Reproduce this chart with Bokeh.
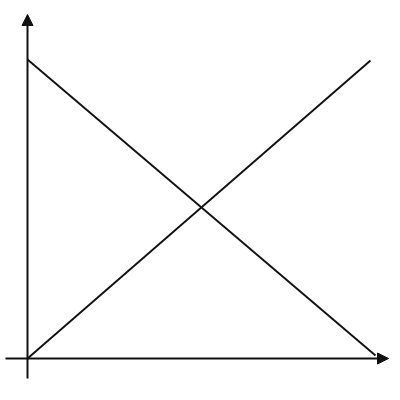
from bokeh.plotting import figure
from bokeh.models import Range1d, Arrow, NormalHead
from bokeh.embed import file_html
from bokeh.resources import INLINE

# Data (abstract units, origin at 0,0)
rise_x = [0, 343]
rise_y = [0, 298]
fall_x = [0, 348]
fall_y = [299, 3]

# Axis extents
x_axis_span = [-22, 361]
y_axis_span = [-20, 344]

p = figure(width=392, height=392, output_backend="svg", toolbar_location=None,
           x_range=Range1d(-27, 365), y_range=Range1d(-34, 358), min_border=0)
p.axis.visible = False
p.grid.visible = False
p.outline_line_color = None
p.background_fill_color = "white"
p.border_fill_color = "white"

p.line(rise_x, rise_y, line_color="#111111", line_width=1.9)
p.line(fall_x, fall_y, line_color="#111111", line_width=1.9)

p.add_layout(Arrow(end=NormalHead(size=11, fill_color="#111111", line_color="#111111", line_width=1),
                   x_start=x_axis_span[0], y_start=0, x_end=x_axis_span[1], y_end=0,
                   line_color="#111111", line_width=2.0))
p.add_layout(Arrow(end=NormalHead(size=11, fill_color="#111111", line_color="#111111", line_width=1),
                   x_start=0, y_start=y_axis_span[0], x_end=0, y_end=y_axis_span[1],
                   line_color="#111111", line_width=2.0))

open("out.html", "w").write(file_html(p, INLINE))
